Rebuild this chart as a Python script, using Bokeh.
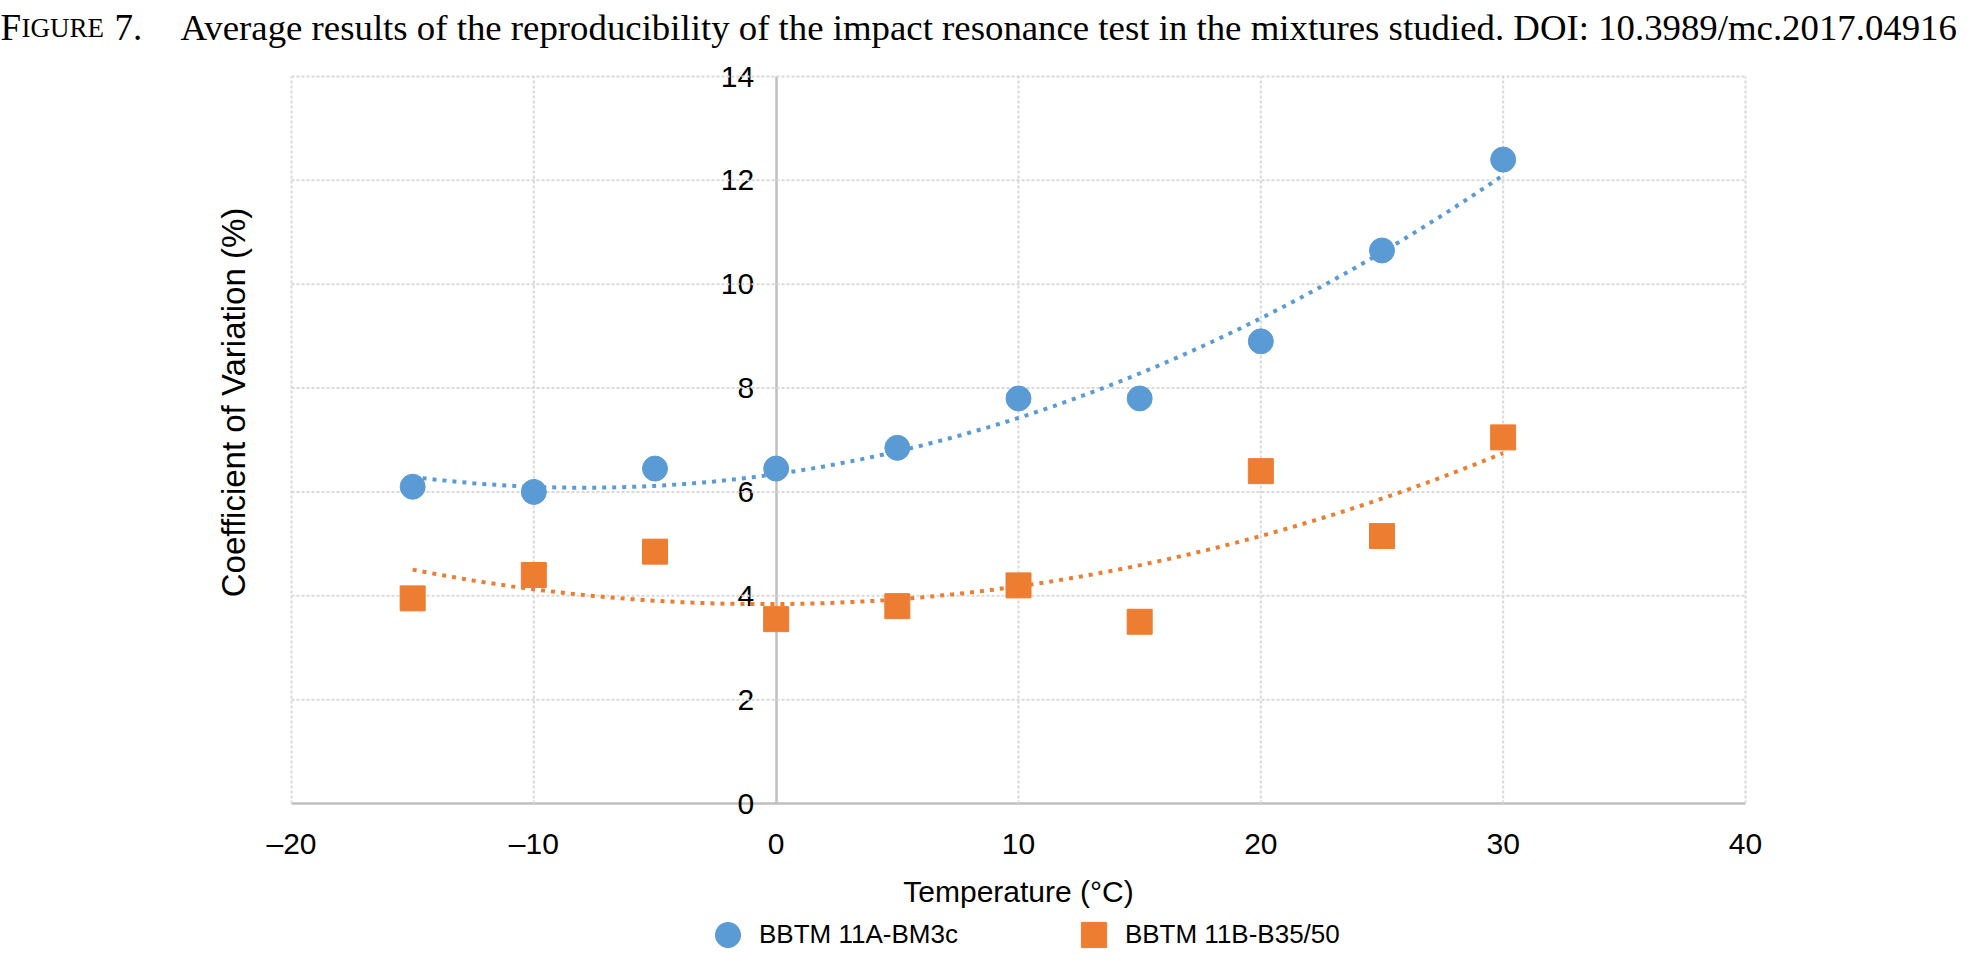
import math
import numpy as np
from bokeh.plotting import figure
from bokeh.models import Range1d, FixedTicker, Legend, LegendItem, Label
from bokeh.embed import file_html
from bokeh.resources import INLINE

# ---- data ----
temperature = [-15, -10, -5, 0, 5, 10, 15, 20, 25, 30]
cv_11a = [6.1, 6.0, 6.45, 6.45, 6.85, 7.8, 7.8, 8.9, 10.65, 12.4]
cv_11b = [3.95, 4.4, 4.85, 3.55, 3.8, 4.2, 3.5, 6.4, 5.15, 7.05]
series_names = ["BBTM 11A-BM3c", "BBTM 11B-B35/50"]
x_ticks = [-20, -10, 0, 10, 20, 30, 40]
x_tick_labels = ["\u201320", "\u201310", "0", "10", "20", "30", "40"]
y_ticks = [0, 2, 4, 6, 8, 10, 12, 14]
x_title = "Temperature (\u00b0C)"
y_title = "Coefficient of Variation (%)"
caption = ("Average results of the reproducibility of the impact resonance test "
           "in the mixtures studied. DOI: 10.3989/mc.2017.04916")

BLUE = "#5B9BD5"
ORANGE = "#ED7D31"
GRID = "#D9D9D9"
AXIS = "#BFBFBF"
SANS = "Liberation Sans"
SERIF = "Liberation Serif"

# ---- layout (pixels inside the canvas) ----
W, H = 1968, 952
PL, PR, PT, PB = 291, 1745, 76, 803   # plotting box edges
x0, x1 = x_ticks[0], x_ticks[-1]
y0, y1 = y_ticks[0], y_ticks[-1]
pxx = (PR - PL) / (x1 - x0)
pxy = (PB - PT) / (y1 - y0)
x_range = Range1d(x0 - PL / pxx, x1 + (W - PR) / pxx)
y_range = Range1d(y0 - (H - PB) / pxy, y1 + PT / pxy)

p = figure(width=W, height=H, x_range=x_range, y_range=y_range,
           output_backend="svg", toolbar_location=None, min_border=0)
p.outline_line_color = None
p.grid.visible = False

# dotted grid (the 0 lines are drawn by the axes)
gx = [t for t in x_ticks if t != 0]
gy = [t for t in y_ticks if t != 0]
p.segment(x0=gx, y0=[y0] * len(gx), x1=gx, y1=[y1] * len(gx),
          line_color=GRID, line_width=2, line_dash="3 2")
p.segment(x0=[x0] * len(gy), y0=gy, x1=[x1] * len(gy), y1=gy,
          line_color=GRID, line_width=2, line_dash="3 2")

# x axis crossing at y = 0
xa = p.xaxis[0]
xa.fixed_location = 0
xa.bounds = (x0, x1)
xa.level = "underlay"
xa.ticker = FixedTicker(ticks=x_ticks)
xa.major_label_overrides = {t: l for t, l in zip(x_ticks, x_tick_labels)}
xa.axis_line_color = AXIS
xa.axis_line_width = 2.5
xa.major_tick_line_color = None
xa.minor_tick_line_color = None
xa.major_tick_out = 0
xa.major_label_standoff = 23
xa.major_label_text_font = SANS
xa.major_label_text_font_size = "30px"
xa.major_label_text_color = "black"
xa.axis_label = x_title
xa.axis_label_text_font = SANS
xa.axis_label_text_font_size = "30px"
xa.axis_label_text_font_style = "normal"
xa.axis_label_text_color = "black"
xa.axis_label_standoff = 12

# y axis crossing at x = 0, labels on its left
ya = p.yaxis[0]
ya.fixed_location = 0
ya.bounds = (y0, y1)
ya.level = "underlay"
ya.ticker = FixedTicker(ticks=y_ticks)
ya.axis_line_color = AXIS
ya.axis_line_width = 2.5
ya.major_tick_line_color = None
ya.minor_tick_line_color = None
ya.major_tick_out = 0
ya.major_label_standoff = 22
ya.major_label_text_font = SANS
ya.major_label_text_font_size = "30px"
ya.major_label_text_color = "black"

# y axis title at the left edge of the chart
p.add_layout(Label(x=233, y=H - 402, x_units="screen", y_units="screen", text=y_title,
                   angle=math.pi / 2, text_align="center", text_baseline="middle",
                   text_font=SANS, text_font_size="33px", text_color="black"))

# trend lines: 2nd order polynomial fit of each series
xs = np.linspace(min(temperature), max(temperature), 200)
fit_a = np.polyval(np.polyfit(temperature, cv_11a, 2), xs)
fit_b = np.polyval(np.polyfit(temperature, cv_11b, 2), xs)
p.line(xs, fit_a, line_color=BLUE, line_width=4, line_dash="4 6")
p.line(xs, fit_b, line_color=ORANGE, line_width=4, line_dash="4 6")

r1 = p.scatter(temperature, cv_11a, marker="circle", size=25, fill_color=BLUE, line_color=BLUE)
r2 = p.scatter(temperature, cv_11b, marker="square", size=25, fill_color=ORANGE, line_color=ORANGE)

# legend below the chart
legend = Legend(items=[LegendItem(label=series_names[0], renderers=[r1]),
                       LegendItem(label=series_names[1], renderers=[r2])],
                location=(696, -14), orientation="horizontal",
                glyph_width=63, glyph_height=63, label_standoff=0, spacing=104,
                padding=0, margin=0, border_line_color=None, background_fill_alpha=0,
                label_text_font=SANS, label_text_font_size="26px", label_text_color="black")
p.add_layout(legend, "center")

# figure caption with small caps "Figure"
BASE = H - 27
for txt, x, size in [("F", 0, "37px"), ("IGURE", 21, "27px"), ("7.", 114, "37px"),
                     (caption, 180, "36.8px")]:
    p.add_layout(Label(x=x, y=BASE, x_units="screen", y_units="screen", text=txt,
                       text_font=SERIF, text_font_size=size, text_baseline="alphabetic",
                       text_color="black"))

open("out.html", "w").write(file_html(p, INLINE))
